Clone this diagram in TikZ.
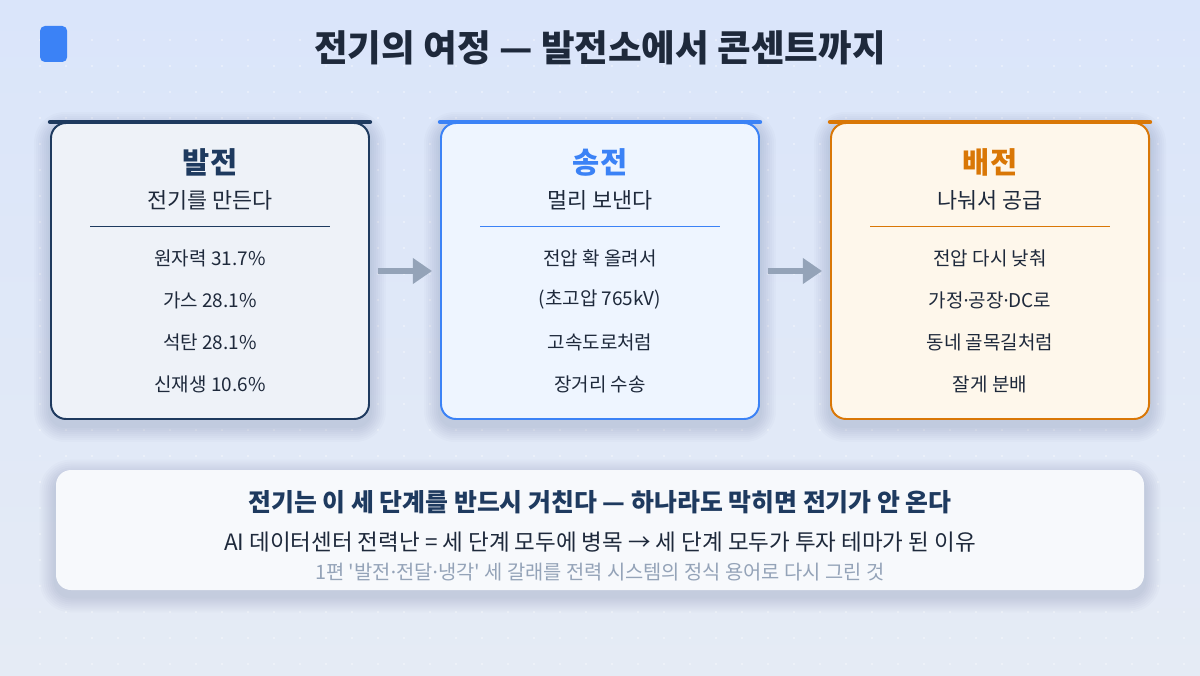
\documentclass[tikz,border=0pt]{standalone}
\usepackage{fontspec}
\setmainfont{Noto Sans CJK KR}
\newfontfamily\latinfont{Noto Sans}
\usetikzlibrary{arrows.meta,backgrounds}

\definecolor{bgtop}{HTML}{DAE5FA}
\definecolor{bgbot}{HTML}{E5EBF5}
\definecolor{ink}{HTML}{1E293B}
\definecolor{navy}{HTML}{1E3A5F}
\definecolor{navyfill}{HTML}{EEF2F8}
\definecolor{blue}{HTML}{3B82F6}
\definecolor{bluefill}{HTML}{EEF5FF}
\definecolor{amber}{HTML}{D97706}
\definecolor{amberfill}{HTML}{FEF7EB}
\definecolor{slate}{HTML}{94A3B8}
\definecolor{notefill}{HTML}{F7F9FC}

\newcommand{\mdot}{{\latinfont ·}}
% soft shadow under a named node
\newcommand{\castshadow}[1]{%
  \foreach \k in {1,...,8}
    \fill[navy, opacity=0.018, rounded corners=0.375cm+\k*0.05cm]
      ([shift={(-0.05*\k,-0.15-0.05*\k)}]#1.south west) rectangle
      ([shift={(0.05*\k,-0.15+0.05*\k)}]#1.north east);}

\begin{document}
\begin{tikzpicture}[
  card/.style={draw=#1, line width=1.4pt, rounded corners=0.375cm,
    minimum width=7.95cm, minimum height=7.4cm},
  topbar/.style={draw=#1, line width=0.11cm, line cap=round},
  rule/.style={draw=#1, line width=0.7pt},
  head/.style={text=#1, font=\fontsize{21}{25}\selectfont\bfseries},
  sub/.style={text=ink, font=\fontsize{15.5}{19}\selectfont},
  item/.style={text=ink, font=\fontsize{13.5}{16}\selectfont},
  flow/.style={draw=slate, line width=0.17cm, shorten <=0.2cm, shorten >=0.2cm,
    -{Triangle[length=0.48cm, width=0.62cm]}},
]
% title
\node[fill=blue, rounded corners=0.12cm, minimum width=0.675cm, minimum height=0.9cm, inner sep=0pt] (badge) at (1.34,15.775) {};
\node[text=ink, font=\fontsize{26}{31}\selectfont\bfseries] (title) at (15,15.675) {전기의 여정 — 발전소에서 콘센트까지};

% cards
\node[card=navy, fill=navyfill] (gen) at (5.25,10.1) {};
\node[card=blue, fill=bluefill] (trans) at (15,10.1) {};
\node[card=amber, fill=amberfill] (dist) at (24.75,10.1) {};
\draw[topbar=navy] (gen.north west) -- (gen.north east);
\draw[topbar=blue] (trans.north west) -- (trans.north east);
\draw[topbar=amber] (dist.north west) -- (dist.north east);

% 발전
\node[head=navy] (genhead) at (5.25,12.825) {발전};
\node[sub] (gensub) at (5.25,11.875) {전기를 만든다};
\draw[rule=navy] (2.25,11.225) -- (8.25,11.225);
\node[item] (gen1) at (5.25,10.425) {원자력 31.7\%};
\node[item] (gen2) at (5.25,9.375) {가스 28.1\%};
\node[item] (gen3) at (5.25,8.325) {석탄 28.1\%};
\node[item] (gen4) at (5.25,7.275) {신재생 10.6\%};

% 송전
\node[head=blue] (transhead) at (15,12.825) {송전};
\node[sub] (transsub) at (15,11.875) {멀리 보낸다};
\draw[rule=blue] (12,11.225) -- (18,11.225);
\node[item] (trans1) at (15,10.425) {전압 확 올려서};
\node[item] (trans2) at (15,9.375) {(초고압 765kV)};
\node[item] (trans3) at (15,8.325) {고속도로처럼};
\node[item] (trans4) at (15,7.275) {장거리 수송};

% 배전
\node[head=amber] (disthead) at (24.75,12.825) {배전};
\node[sub] (distsub) at (24.75,11.875) {나눠서 공급};
\draw[rule=amber] (21.75,11.225) -- (27.75,11.225);
\node[item] (dist1) at (24.75,10.425) {전압 다시 낮춰};
\node[item] (dist2) at (24.75,9.375) {가정\mdot 공장\mdot DC로};
\node[item] (dist3) at (24.75,8.325) {동네 골목길처럼};
\node[item] (dist4) at (24.75,7.275) {잘게 분배};

% arrows
\draw[flow] (gen) -- (trans);
\draw[flow] (trans) -- (dist);

% note
\node[fill=notefill, rounded corners=0.375cm, minimum width=27.2cm, minimum height=3cm] (note) at (15,3.625) {};
\node[text=navy, font=\fontsize{17.7}{21}\selectfont\bfseries] (note1) at (15,4.325) {전기는 이 세 단계를 반드시 거친다 — 하나라도 막히면 전기가 안 온다};
\node[text=ink, font=\fontsize{16}{19}\selectfont] (note2) at (15,3.325) {AI 데이터센터 전력난 = 세 단계 모두에 병목 → 세 단계 모두가 투자 테마가 된 이유};
\node[text=slate, font=\fontsize{14.1}{16}\selectfont] (note3) at (15,2.575) {1편 \textquotesingle 발전\mdot 전달\mdot 냉각\textquotesingle{} 세 갈래를 전력 시스템의 정식 용어로 다시 그린 것};

% background, dots and shadows
\begin{scope}[on background layer]
\shade[top color=bgtop, bottom color=bgbot] (0,0) rectangle (30,16.875);
\foreach \i in {0,...,44}
  \foreach \j in {0,...,24}
    \fill[white, opacity=0.7] (1+0.65*\i,15.875-0.65*\j) circle (0.02);
\castshadow{gen}
\castshadow{trans}
\castshadow{dist}
\castshadow{note}
\end{scope}
\end{tikzpicture}
\end{document}
